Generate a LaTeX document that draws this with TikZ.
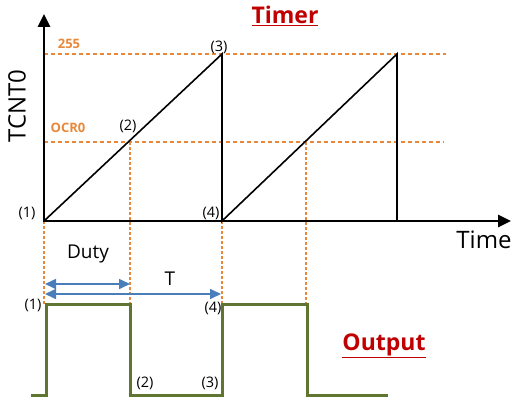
\documentclass[tikz,border=0pt]{standalone}
\usepackage{fontspec}
\setmainfont{Open Sans}
\usetikzlibrary{arrows.meta}
\definecolor{dorange}{HTML}{E8883A}
\definecolor{dred}{HTML}{C00000}
\definecolor{ablue}{HTML}{4A7EBB}
\definecolor{olive}{HTML}{5F7530}
\tikzset{
  axis/.style={line width=2.6pt,-{Triangle[length=13pt,width=12pt]}},
  ramp/.style={line width=1.6pt, line cap=round},
  guide/.style={dorange, line width=1.3pt, dash pattern=on 4pt off 3pt},
  vguide/.style={dorange, line width=1.1pt, dash pattern=on 3pt off 2pt},
  span/.style={ablue, line width=1.6pt, {Triangle[length=11pt,width=10pt]}-{Triangle[length=11pt,width=10pt]}},
  wave/.style={olive, line width=3pt},
  lbl/.style={font=\fontsize{14.5}{16}\selectfont, inner sep=0pt},
  olbl/.style={font=\fontsize{13}{15}\selectfont\bfseries, text=dorange, inner sep=0pt},
  title/.style={font=\fontsize{23}{26}\selectfont\bfseries, text=dred, inner sep=0pt},
  big/.style={font=\fontsize{24}{28}\selectfont, inner sep=0pt},
  mid/.style={font=\fontsize{19}{22}\selectfont, inner sep=0pt}
}
\begin{document}
\begin{tikzpicture}[x=1pt,y=-1pt]
\useasboundingbox (0,0) rectangle (516,404);
% key coordinates
\coordinate (O) at (44,221);
\coordinate (Ytop) at (44,14);
\coordinate (Xend) at (511,221);
\coordinate (P3) at (222,54);
\coordinate (P4) at (222,221);
\coordinate (Q3) at (397,54);
\coordinate (Q4) at (397,221);
\coordinate (P2) at (130,142);
\coordinate (Q2) at (306,142);
\coordinate (TopEnd) at (446,54);
\coordinate (OcrEnd) at (444,142);
\coordinate (TopStart) at (44,54);
\coordinate (OcrStart) at (44,142);
% guides
\draw[guide] (TopStart) -- (TopEnd);
\draw[guide] (OcrStart) -- (OcrEnd);
\draw[vguide] (P2) -- (130,304);
\draw[vguide] (Q2) -- (306,304);
\draw[vguide] (O) -- (44,304);
\draw[vguide] (P4) -- (222,304);
% ramps
\draw[ramp] (O) -- (P3) -- (P4) -- (Q3) -- (Q4);
% axes
\draw[axis] (44,222) -- (Ytop);
\draw[axis] (43,221) -- (Xend);
% output waveform
\draw[wave] (31,395) -- (46,395) -- (46,304) -- (130,304) -- (130,395) -- (222,395) -- (222,304) -- (307,304) -- (307,395) -- (388,395);
% span arrows
\draw[span] (45,284) -- (130,284);
\draw[span] (45,294) -- (221,294);
% texts
\node[title] (timer) at (285,16) {\underline{Timer}};
\node[title] (output) at (384,346) {\underline{Output}};
\node[big, rotate=90] (tcnt) at (17,106) {TCNT0};
\node[big] (time) at (484,240) {Time};
\node[olbl] (v255) at (69,44) {255};
\node[olbl] (ocr) at (68,128) {OCR0};
\node[lbl] (t3) at (219,47) {(3)};
\node[lbl] (t2) at (128,126) {(2)};
\node[lbl] (t1) at (27,213) {(1)};
\node[lbl] (t4) at (211,213) {(4)};
\node[mid] (duty) at (88,254) {Duty};
\node[mid] (T) at (170,279) {T};
\node[lbl] (o1) at (33,305) {(1)};
\node[lbl] (o4) at (213,308) {(4)};
\node[lbl] (o2) at (145,383) {(2)};
\node[lbl] (o3) at (210,383) {(3)};
\end{tikzpicture}
\end{document}
